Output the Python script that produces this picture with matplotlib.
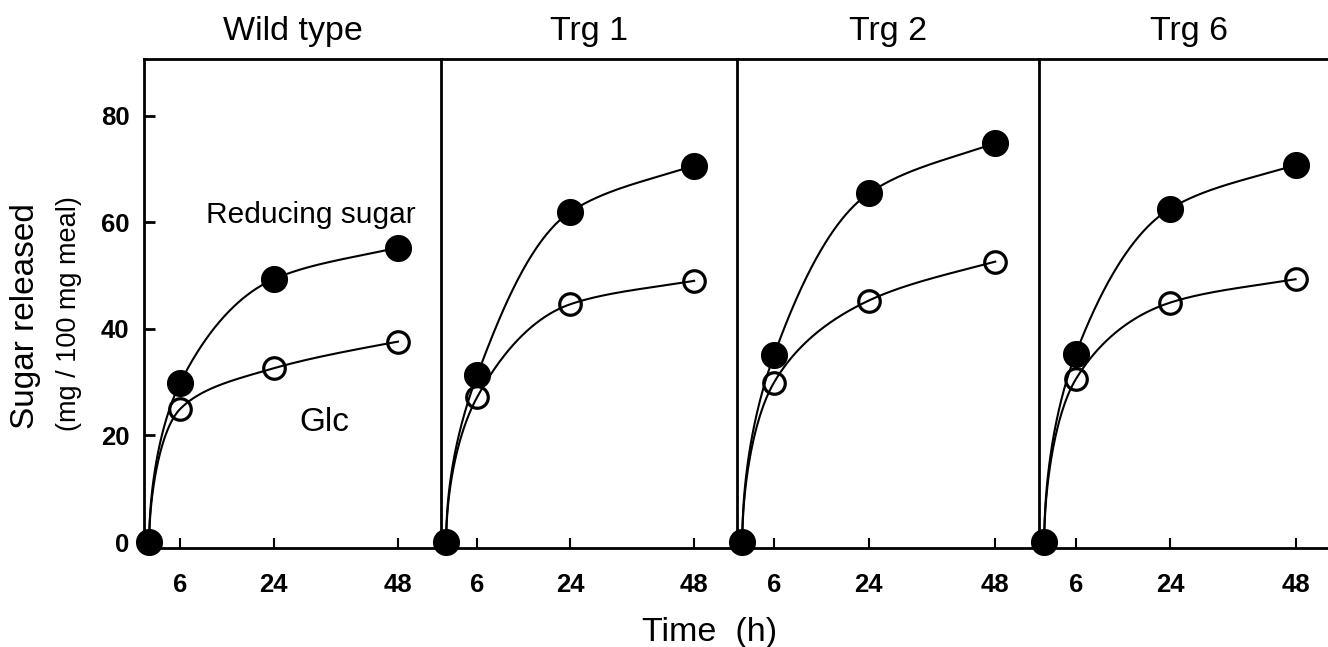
import numpy as np
import matplotlib
matplotlib.use("Agg")
import matplotlib.pyplot as plt

plt.rcParams['font.family'] = ['Liberation Sans', 'DejaVu Sans']

# data
panels = ['Wild type', 'Trg 1', 'Trg 2', 'Trg 6']
time_h = [0, 6, 24, 48]
reducing = [
    [0, 29.9, 49.3, 55.2],
    [0, 31.3, 61.9, 70.6],
    [0, 35.0, 65.4, 74.8],
    [0, 35.3, 62.5, 70.7],
]
glc = [
    [0, 25.0, 32.6, 37.6],
    [0, 27.2, 44.6, 49.0],
    [0, 29.9, 45.3, 52.6],
    [0, 30.5, 44.9, 49.3],
]
x_ticks = [6, 24, 48]
y_ticks = [0, 20, 40, 60, 80]


def smooth_curve(t, y, n=400):
    """Monotone cubic (Fritsch-Carlson) through the points, done in sqrt(t)
    so the curve leaves the origin steeply like the hand-drawn fit."""
    s = np.sqrt(np.asarray(t, float))
    y = np.asarray(y, float)
    h = np.diff(s)
    d = np.diff(y) / h
    m = np.zeros_like(y)
    m[0], m[-1] = d[0], d[-1]
    for k in range(1, len(y) - 1):
        if d[k - 1] * d[k] > 0:
            w1 = 2 * h[k] + h[k - 1]
            w2 = h[k] + 2 * h[k - 1]
            m[k] = (w1 + w2) / (w1 / d[k - 1] + w2 / d[k])
    ss = np.linspace(s[0], s[-1], n)
    idx = np.clip(np.searchsorted(s, ss) - 1, 0, len(h) - 1)
    u = (ss - s[idx]) / h[idx]
    h00 = 2 * u**3 - 3 * u**2 + 1
    h10 = u**3 - 2 * u**2 + u
    h01 = -2 * u**3 + 3 * u**2
    h11 = u**3 - u**2
    yy = (h00 * y[idx] + h10 * h[idx] * m[idx]
          + h01 * y[idx + 1] + h11 * h[idx] * m[idx + 1])
    return ss**2, yy


W, H = 1328, 647
fig = plt.figure(figsize=(W / 100, H / 100), dpi=100)

lefts = [144, 441, 737, 1039]
widths = [297, 296, 302, 300]
top_px, bot_px = 59, 548

for i, name in enumerate(panels):
    ax = fig.add_axes([lefts[i] / W, 1 - bot_px / H, widths[i] / W, (bot_px - top_px) / H])
    ax.set_xlim(-1.0, 56.3)
    ax.set_ylim(-1.1, 90.6)

    ax.plot(time_h, reducing[i], 'o', color='black', ms=18.5, mew=1,
            clip_on=False, zorder=3)
    ax.plot(time_h[1:], glc[i][1:], 'o', mfc='white', mec='black', ms=15.5,
            mew=2.3, clip_on=False, zorder=4)
    for series in (reducing[i], glc[i]):
        tt, yy = smooth_curve(time_h, series)
        ax.plot(tt, yy, color='black', lw=1.5, zorder=5)

    for side in ('left', 'top', 'bottom'):
        ax.spines[side].set_linewidth(2)
    ax.spines['right'].set_visible(False)

    ax.set_xticks(x_ticks)
    ax.set_xticklabels([str(v) for v in x_ticks], fontsize=18.5, fontweight='bold')
    ax.tick_params(axis='x', direction='in', length=7, width=1.5, pad=18)

    if i == 0:
        ax.set_yticks(y_ticks)
        ax.set_yticklabels([str(v) for v in y_ticks], fontsize=18.5, fontweight='bold')
        ax.tick_params(axis='y', direction='in', length=8, width=2, pad=10.5)
        ax.text(11.0, 61.3, 'Reducing sugar', fontsize=21.5, ha='left', va='center')
        ax.text(29.0, 22.5, 'Glc', fontsize=24, ha='left', va='center')
    else:
        ax.set_yticks([])

    ax.set_title(name, fontsize=24.5, pad=13.5)

fig.text(26 / W, 1 - 316 / H, 'Sugar released', rotation=90, fontsize=24,
         ha='center', va='center')
fig.text(69 / W, 1 - 314 / H, '(mg / 100 mg meal)', rotation=90, fontsize=19.5,
         ha='center', va='center')
fig.text(710 / W, 1 - 632 / H, 'Time  (h)', fontsize=24.5, ha='center', va='center')

fig.savefig('out.png', dpi=100)
